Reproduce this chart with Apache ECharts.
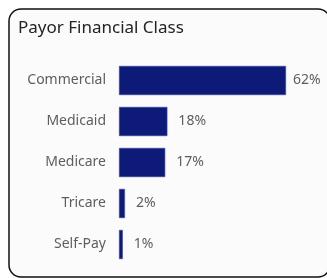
<!DOCTYPE html>
<html>
<head>
<meta charset="utf-8">
<script src="https://cdn.jsdelivr.net/npm/echarts@6/dist/echarts.min.js"></script>
<style>
  html, body { margin: 0; padding: 0; background: #ffffff; }
  #main { width: 327px; height: 278px; }
</style>
</head>
<body>
<div id="main"></div>
<script>
  const TITLE = "Payor Financial Class";
  const CATEGORIES = ["Commercial", "Medicaid", "Medicare", "Tricare", "Self-Pay"];
  const SHARES = [61.8, 17.9, 17.1, 2.2, 1.4];

  const NAVY = "#0e1a78";
  const LABEL = "#605e5c";

  const inst = echarts.init(document.getElementById("main"), null, { renderer: "canvas" });

  inst.setOption({
    animation: false,
    graphic: [
      {
        type: "rect", z: -10,
        shape: { x: 9, y: 9, width: 321, height: 268, r: 12 },
        style: { fill: "#fbfbfb", stroke: "#111111", lineWidth: 1.5 },
      },
      {
        type: "text", left: 18, top: 20,
        style: {
          text: TITLE, fill: "#252423",
          font: '17px "Noto Sans", sans-serif',
        },
      },
    ],
    grid: { left: 119, right: 41, top: 60, bottom: 13 },
    xAxis: {
      type: "value", min: 0, max: 61.8,
      show: false,
    },
    yAxis: {
      type: "category", data: CATEGORIES, inverse: true,
      axisLine: { show: false }, axisTick: { show: false },
      axisLabel: {
        color: LABEL, fontSize: 14, margin: 13,
        fontFamily: '"Noto Sans", sans-serif',
      },
    },
    series: [{
      type: "bar",
      barCategoryGap: "29%",
      data: SHARES.map((v, i) => ({
        value: v,
        label: { distance: i === 0 ? 7 : 11 },
      })),
      itemStyle: { color: NAVY, borderColor: "#3a45a0", borderWidth: 0.6 },
      label: {
        show: true, position: "right",
        color: LABEL, fontSize: 14,
        fontFamily: '"Noto Sans", sans-serif',
        formatter: (p) => Math.round(p.value) + "%",
      },
    }],
  });
</script>
</body>
</html>
